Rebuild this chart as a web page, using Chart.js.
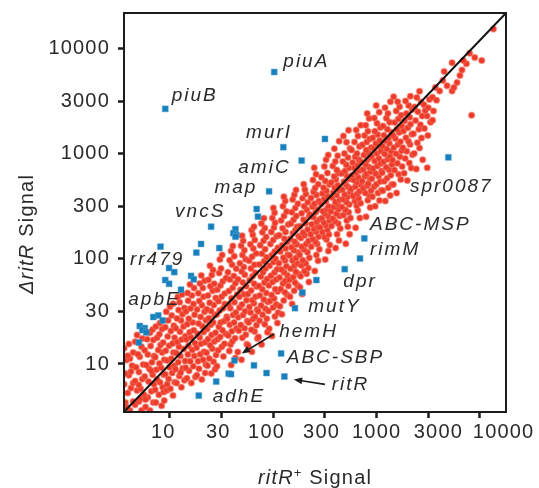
<!DOCTYPE html>
<html>
<head>
<meta charset="utf-8">
<script src="https://cdn.jsdelivr.net/npm/chart.js@4.4.1/dist/chart.umd.min.js"></script>
<style>
  html, body { margin: 0; padding: 0; background: #fff; }
  canvas { display: block; }
</style>
</head>
<body>
<canvas id="grafica" width="539" height="488"></canvas>
<script>
// axis range (signal, log scale)
const xMin = 3.59, xMax = 17860;
const yMin = 3.49, yMax = 22000;

const tickValues = [10, 31.62, 100, 316.2, 1000, 3162, 10000];
const tickLabels = ['10', '30', '100', '300', '1000', '3000', '10000'];
// spaces added to the x labels so they sit like in the figure (negative = after the text)
const xTickNudge = [-2, -1, -2, -1, 0, 3, 7];

// all genes: [ritR+ signal, ΔritR signal]
const genes = [
  [4.1,3.6],[3.7,4.3],[4.4,4.4],[3.9,5.3],[4.2,5.9],[3.6,6.4],[4.4,6.6],[4.0,7.8],[3.7,8.1],[4.3,9.6],[3.8,10.9],[4.1,11.3],[4.4,12.9],[3.6,14.1],[4.0,15.5],[3.8,3.9],[4.2,8.5],[3.9,12.0],
  [5.3,3.6],[4.6,4.1],[5.0,4.4],[5.5,5.0],[4.8,5.6],[5.2,5.8],[4.6,6.9],[5.4,7.2],[5.0,8.4],[4.7,9.3],[5.5,9.9],[5.1,11.7],[4.9,12.4],[5.3,14.6],[4.6,16.3],[5.4,17.5],[4.8,18.9],[5.2,4.7],[5.0,6.3],
  [6.4,3.6],[5.8,3.9],[6.9,4.3],[6.1,4.8],[5.6,5.1],[6.6,5.5],[7.0,6.4],[6.2,6.8],[5.7,7.6],[6.8,7.9],[6.3,9.0],[5.9,9.8],[6.7,10.4],[7.0,11.9],[6.1,12.3],[5.7,13.5],[6.5,14.8],[6.9,16.9],[6.0,17.2],[6.4,19.8],[6.8,21.3],[5.8,4.6],[6.6,8.6],
  [8.3,4.0],[7.3,4.3],[8.8,4.5],[7.8,5.1],[7.2,5.7],[8.5,6.0],[8.0,6.7],[7.5,7.1],[8.7,7.9],[7.4,8.8],[8.2,9.2],[7.9,10.1],[8.8,11.0],[7.2,11.6],[8.4,12.9],[7.7,13.6],[8.1,15.2],[8.6,16.0],[7.5,17.8],[7.9,19.2],[8.4,21.5],[7.3,22.8],[8.0,24.6],[8.7,5.4],
  [10.7,5.0],[9.3,5.6],[10.1,5.8],[11.1,6.7],[9.7,7.2],[9.0,8.0],[10.5,8.2],[9.9,9.3],[11.0,9.6],[9.4,10.8],[10.3,11.2],[10.8,12.9],[9.1,13.4],[9.8,14.9],[10.6,15.7],[11.1,17.8],[9.5,18.3],[10.2,20.6],[9.0,22.4],[10.9,23.1],[9.6,26.0],[10.4,28.9],[9.2,31.5],[10.0,35.0],[10.7,37.5],[9.4,6.4],
  [12.9,6.0],[11.6,6.6],[13.8,7.0],[12.3,7.7],[11.3,8.9],[13.3,9.1],[12.0,10.4],[14.0,10.7],[12.6,11.9],[11.5,12.7],[13.6,13.9],[12.2,14.6],[11.8,16.2],[13.0,17.1],[14.1,18.4],[12.5,20.3],[11.4,21.9],[13.5,22.7],[12.8,25.9],[11.7,27.1],[13.2,29.8],[12.1,32.6],[13.8,34.1],[12.4,38.8],[11.9,43.5],[13.1,46.0],[12.7,8.3],
  [16.1,6.6],[14.6,7.3],[17.6,7.5],[15.3,8.6],[14.2,9.2],[16.8,9.5],[15.7,10.6],[17.2,11.9],[14.9,12.3],[16.4,13.6],[15.1,14.9],[17.5,15.8],[14.4,17.1],[16.0,17.9],[15.5,20.1],[17.0,21.0],[14.7,23.9],[16.6,24.8],[15.2,26.9],[17.3,29.4],[14.3,31.6],[15.8,33.8],[16.9,37.2],[15.0,40.1],[16.3,44.8],[14.8,47.5],[17.1,53.0],[15.6,57.0],
  [20.3,7.1],[18.2,7.8],[21.9,8.2],[19.1,9.0],[22.2,9.9],[18.7,10.6],[20.9,11.0],[19.6,12.4],[21.4,13.1],[18.1,14.3],[20.0,15.6],[22.0,16.1],[19.4,17.9],[18.5,19.4],[21.2,20.2],[20.6,22.9],[18.9,24.3],[22.3,26.1],[19.8,28.0],[21.6,31.4],[18.3,33.0],[20.4,36.2],[19.2,39.9],[21.1,43.6],[18.8,47.1],[20.8,52.8],[19.5,58.4],[21.7,62.0],[20.1,69.5],
  [25.1,8.1],[27.3,8.9],[23.1,9.6],[26.4,10.5],[24.0,11.3],[27.9,12.2],[22.6,12.8],[25.7,14.0],[24.5,15.1],[26.9,16.4],[23.4,17.3],[25.3,18.9],[27.6,19.8],[22.9,21.5],[24.8,23.6],[26.2,24.9],[23.8,27.3],[27.1,29.1],[25.0,31.9],[22.7,33.2],[26.6,36.5],[24.2,38.4],[27.7,42.6],[23.3,45.0],[25.9,49.7],[24.6,54.9],[26.8,58.1],[23.6,63.4],[25.4,70.2],[26.1,78.5],[24.4,86.0],
  [28.5,9.5],[32.9,11.8],[29.3,13.5],[31.8,14.6],[33.7,15.6],[28.9,17.2],[30.6,18.1],[34.6,19.4],[32.2,21.0],[29.7,22.6],[31.0,24.8],[33.5,25.7],[35.4,28.1],[28.4,29.6],[30.3,32.3],[32.7,34.0],[34.0,37.3],[29.5,39.6],[31.6,43.8],[33.9,47.0],[28.7,50.8],[30.8,55.9],[32.5,61.2],[34.9,66.0],[29.9,73.5],[31.2,81.0],[30.4,99.0],[32.0,109],
  [39.1,9.8],[43.0,11.4],[37.5,13.3],[38.6,15.3],[40.2,16.5],[42.6,17.6],[36.6,18.7],[39.7,20.5],[44.0,21.8],[37.9,23.7],[41.7,24.9],[35.8,27.0],[40.8,29.3],[43.4,31.0],[38.3,33.9],[36.9,36.8],[42.1,38.7],[39.4,42.3],[44.6,45.9],[37.2,49.5],[40.5,53.1],[42.9,58.6],[38.0,63.9],[41.5,69.0],[36.4,74.8],[43.7,80.5],[39.9,88.0],[37.8,97.5],[41.9,106],[39.0,119],[40.6,133],
  [49.2,11.0],[45.3,13.0],[55.5,15.4],[50.1,17.8],[54.2,19.0],[46.4,20.7],[52.7,21.9],[48.5,23.5],[55.9,25.6],[45.8,27.9],[51.0,29.2],[53.3,31.8],[47.1,34.4],[49.8,36.9],[55.1,40.5],[46.9,43.7],[52.3,46.2],[48.1,50.9],[54.6,55.0],[50.6,59.8],[45.6,64.1],[53.0,70.6],[49.4,76.2],[51.8,83.8],[47.5,91.0],[54.0,99.4],[50.3,109],[52.5,121],[48.8,134],[51.1,149],[49.9,166],
  [62.1,13.1],[57.0,15.0],[70.2,17.5],[65.9,20.4],[61.3,21.2],[68.7,23.4],[57.9,24.9],[63.5,26.8],[66.6,28.2],[60.2,30.9],[69.6,33.0],[58.6,34.8],[64.9,37.9],[62.7,40.4],[67.3,43.8],[56.8,46.5],[61.0,50.2],[69.0,54.7],[65.2,58.0],[59.0,62.8],[63.0,68.6],[67.0,74.0],[60.7,81.0],[65.6,88.3],[58.3,96.0],[62.4,105],[68.2,113],[64.0,126],[60.0,138],[66.2,152],[63.3,170],[61.7,188],[65.0,203],
  [77.0,15.3],[72.0,18.1],[87.9,20.1],[82.6,23.9],[73.5,25.8],[86.4,27.0],[78.8,29.5],[71.4,31.7],[83.7,33.6],[76.1,36.0],[88.5,38.9],[80.9,41.2],[74.0,44.9],[85.5,47.3],[78.2,51.5],[72.6,55.2],[82.0,59.7],[87.0,64.3],[75.8,68.1],[79.6,74.7],[84.1,81.3],[73.2,88.6],[81.5,95.0],[86.0,104],[77.5,112],[83.3,124],[74.7,135],[80.5,149],[85.2,162],[78.4,180],[82.8,197],[76.7,218],[81.0,244],
  [97.0,18.5],[91.3,21.7],[109.5,24.6],[103.6,28.3],[111.4,30.7],[89.8,32.0],[99.4,34.6],[107.2,36.9],[93.0,39.8],[101.9,42.1],[96.2,45.5],[110.3,48.9],[104.5,51.6],[90.6,55.8],[98.5,60.4],[106.7,63.7],[94.9,69.2],[102.6,74.5],[108.9,79.8],[92.1,86.0],[100.4,93.4],[105.1,100.6],[96.8,109],[103.2,118],[110.7,128],[93.7,139],[99.9,152],[107.7,165],[95.6,181],[101.5,199],[104.0,221],[98.0,246],[102.9,276],[100.2,305],
  [121,29.8],[116,35.4],[126,40.3],[136,45.6],[129,48.2],[118,51.9],[140,55.3],[124,58.4],[131,62.0],[115,66.7],[137,70.1],[127,74.9],[120,79.5],[134,85.3],[113.5,91.2],[130,96.6],[125,103],[138,110],[117,118],[132,126],[122,135],[136.5,145],[128,156],[114,168],[131.5,181],[123,196],[139.5,213],[119,232],[127,256],[134.5,284],[124,318],[130.5,356],[126.5,392],
  [152,37.2],[145,43.6],[159,49.8],[171,56.2],[162,59.7],[143,63.5],[156,67.0],[177,71.8],[165,75.5],[147,80.9],[160,86.4],[172,90.7],[153,96.8],[166,102],[144,108],[174,115],[158,121],[150,129],[169,137],[161,146],[146,156],[176,165],[155,176],[164,189],[170,203],[148,218],[157,236],[167,256],[151,279],[163,305],[173,335],[154,368],[160,410],[166,455],
  [190,46.3],[181,53.9],[221,60.4],[184,68.5],[210,72.2],[200,76.8],[218,81.9],[187,86.6],[206,91.0],[193,97.3],[223,103],[180,109],[214,116],[198,123],[189,131],[208,139],[219,148],[185,158],[201,168],[194,179],[215,191],[182,205],[205,219],[196,236],[222,253],[188,272],[211,293],[199,318],[216,346],[192,378],[207,415],[202,458],[197,515],
  [252,77],[271,96],[261,109],[279,124],[233,131],[266,139],[255,146],[241,155],[274,163],[230,172],[259,182],[248,193],[270,203],[236,214],[263,226],[280,238],[244,251],[226,265],[257,279],[268,296],[239,315],[250,336],[276,357],[232,381],[262,406],[245,437],[254,474],[272,515],[242,565],[259,640],[249,740],
  [318,99],[341,119],[352,136],[327,153],[313,162],[345,171],[298,181],[334,190],[283,199],[322,210],[309,221],[349,233],[295,244],[338,257],[316,270],[302,285],[330,300],[344,316],[290,333],[323,352],[311,372],[336,395],[299,420],[327,447],[306,478],[350,512],[318,552],[292,600],[334,660],[312,760],[324,880],[340,980],
  [401,127],[432,150],[414,172],[445,195],[366,206],[424,218],[395,229],[377,243],[439,256],[408,269],[361,283],[427,298],[385,313],[418,331],[398,349],[442,366],[370,386],[410,406],[381,429],[435,452],[393,477],[421,505],[363,535],[404,570],[388,610],[430,655],[412,705],[376,770],[398,850],[420,960],[390,1120],[434,1320],
  [503,140],[548,172],[526,203],[514,232],[558,246],[478,262],[536,278],[497,295],[461,312],[543,331],[509,349],[474,370],[521,390],[490,412],[555,436],[465,460],[530,486],[501,514],[482,545],[547,577],[517,612],[459,650],[494,690],[540,735],[508,790],[471,850],[528,925],[488,1010],[552,1130],[511,1290],[477,1480],[535,1680],
  [626,198],[688,246],[657,289],[641,322],[700,340],[614,357],[671,377],[592,398],[650,418],[685,442],[566,463],[622,488],[698,512],[639,538],[598,566],[665,597],[578,628],[632,661],[692,697],[609,737],[656,780],[587,828],[676,880],[620,940],[645,1010],[572,1090],[682,1180],[611,1300],[660,1480],[634,1690],[702,1880],
  [790,252],[866,310],[821,362],[851,401],[776,425],[884,448],[743,472],[808,497],[829,524],[723,552],[862,580],[769,612],[797,644],[875,678],[739,713],[842,752],[786,792],[718,834],[815,880],[856,928],[754,978],[834,1032],[792,1090],[887,1152],[729,1222],[803,1300],[859,1390],[765,1500],[823,1650],[784,1880],[846,2180],[810,2430],
  [968,318],[1065,360],[912,392],[1031,424],[1110,452],[945,488],[996,515],[1082,548],[899,582],[1046,612],[974,651],[1116,688],[925,728],[1016,768],[1093,812],[957,857],[1053,903],[893,955],[1004,1010],[1101,1066],[938,1126],[1037,1190],[982,1260],[1072,1340],[918,1430],[1022,1530],[961,1650],[1087,1790],[1008,1960],[950,2200],[1059,2500],[990,2900],
  [1213,357],[1352,402],[1148,446],[1296,478],[1398,512],[1185,551],[1262,588],[1371,626],[1132,664],[1315,706],[1236,748],[1404,793],[1167,842],[1283,890],[1344,944],[1198,1000],[1380,1060],[1249,1124],[1139,1190],[1325,1262],[1224,1338],[1305,1420],[1176,1510],[1392,1610],[1270,1720],[1154,1850],[1337,2000],[1241,2190],[1288,2430],[1206,2750],[1360,3150],
  [1560,425],[1452,512],[1712,570],[1630,640],[1489,705],[1765,760],[1587,815],[1426,878],[1675,940],[1538,1005],[1742,1075],[1470,1150],[1610,1228],[1698,1310],[1516,1400],[1440,1500],[1650,1605],[1575,1720],[1750,1850],[1498,1990],[1622,2150],[1725,2340],[1546,2560],[1668,2820],[1597,3150],[1460,3500],
  [1980,558],[1845,655],[2160,735],[2070,820],[1890,905],[2220,985],[1955,1060],[1795,1145],[2105,1230],[2030,1325],[1920,1430],[2190,1540],[1822,1655],[2005,1780],[2130,1920],[1870,2070],[2085,2240],[1940,2430],[2210,2650],[2040,2900],[1905,3200],[2120,3550],
  [2420,720],[2790,880],[2310,1010],[2600,1140],[2480,1280],[2720,1420],[2270,1560],[2560,1720],[2650,1900],[2380,2080],[2760,2300],[2510,2530],[2330,2800],[2690,3100],[2450,3450],[2600,3950],
  [3090,740],[2900,1750],[3320,2000],[3080,2300],[3480,2100],[2870,2950],[3240,3300],[3130,1500],[2950,2600],
  [3160,2750],[3550,2570],[3470,3470],[3800,3240],[4070,3980],[5370,3980],[4370,5000],[4800,4470],[6000,4800],[6400,5600],[6700,6300],[7400,7240],[5370,7400],[6900,7760],[10400,7760],[8900,8300],[7940,9120],[13500,15500],[8300,2340],[3700,4300],[5600,4300],[4500,6100]
];

// ritR-regulated genes (blue squares)
const regulated = [
  [102,6030],[9.0,2690],[125,1160],[188,865],[91,441],[69,299],[71,253],[25,203],[43,192],[41,176],[44,169],[43,163],
  [8.1,131],[20,139],[18,115],[30,127],[9.8,82],[11,75],[16,69],[17,64],[9.0,63],[9.8,58],[12.8,51],
  [6.9,28],[7.7,29],[8.5,26],[5.1,23],[5.7,22],[5.4,21],[5.9,20],[5.0,16],
  [191,48],[162,34],[261,63],[42,10.8],[65,9.7],[37,8.1],[39,8.0],[86,8.2],[119,12.6],[128,7.6],[28,6.8],[19,5.0],
  [760,157],[690,101],[491,80],[316,1390],[4940,929]
];

// gene names, anchored at the left end of their baseline
const geneNames = ['piuA', 'piuB', 'murI', 'amiC', 'map', 'vncS', 'rr479', 'apbE', 'hemH', 'ABC-SBP', 'adhE', 'ritR', 'mutY', 'dpr', 'rimM', 'ABC-MSP', 'spr0087'];
const geneLabelX = [125, 10.4, 54.5, 45.8, 26.9, 11.2, 4.1, 3.95, 114, 135, 25.9, 367, 218, 476, 863, 863, 2100];
const geneLabelY = [6770, 3220, 1410, 655, 428, 253, 87.7, 36.5, 18.2, 10.2, 4.37, 5.65, 31.5, 54.5, 109, 189, 437];

// arrows for hemH and ritR
const arrowFrom = [[101.6, 19.3], [316, 6.4]];
const arrowTo = [[49.4, 12.6], [158, 7.1]];

const inkColor = '#2a2a2a';
const fontFamily = '"Liberation Sans", Arial, Helvetica, sans-serif';

function drawArrow(ctx, x1, y1, x2, y2) {
  const ang = Math.atan2(y2 - y1, x2 - x1);
  const head = 9, spread = 0.38;
  ctx.beginPath();
  ctx.moveTo(x1, y1);
  ctx.lineTo(x2 - Math.cos(ang) * head * 0.7, y2 - Math.sin(ang) * head * 0.7);
  ctx.stroke();
  ctx.beginPath();
  ctx.moveTo(x2, y2);
  ctx.lineTo(x2 - head * Math.cos(ang - spread), y2 - head * Math.sin(ang - spread));
  ctx.lineTo(x2 - head * Math.cos(ang + spread), y2 - head * Math.sin(ang + spread));
  ctx.closePath();
  ctx.fill();
}

// text made of pieces with their own font and vertical shift
function drawPieces(ctx, pieces, startX, baseY) {
  let cx = startX;
  pieces.forEach(p => {
    ctx.font = p.font;
    ctx.fillText(p.text, cx, baseY - (p.rise || 0));
    cx += ctx.measureText(p.text).width;
  });
}

function piecesWidth(ctx, pieces) {
  let w = 0;
  pieces.forEach(p => { ctx.font = p.font; w += ctx.measureText(p.text).width; });
  return w;
}

const decorations = {
  id: 'decorations',
  beforeDraw(chart) {
    chart.ctx.letterSpacing = '1.2px';
  },
  // the dots in the figure are a little soft
  beforeDatasetDraw(chart, args) {
    if (args.index === 2) {
      chart.ctx.save();
      chart.ctx.filter = 'blur(0.6px)';
    }
  },
  afterDatasetDraw(chart, args) {
    if (args.index === 2) chart.ctx.restore();
  },
  afterDraw(chart) {
    const { ctx, chartArea: a } = chart;
    const sx = chart.scales.x, sy = chart.scales.y;
    ctx.save();

    // frame
    ctx.lineWidth = 2;
    ctx.strokeStyle = '#1c1c1c';
    ctx.strokeRect(a.left, a.top, a.right - a.left, a.bottom - a.top);

    // gene names
    ctx.fillStyle = inkColor;
    ctx.textAlign = 'left';
    ctx.textBaseline = 'alphabetic';
    ctx.letterSpacing = '2px';
    ctx.font = 'italic 19px ' + fontFamily;
    geneNames.forEach((name, i) => {
      ctx.fillText(name, sx.getPixelForValue(geneLabelX[i]), sy.getPixelForValue(geneLabelY[i]));
    });

    // arrows
    ctx.strokeStyle = '#1c1c1c';
    ctx.fillStyle = '#1c1c1c';
    ctx.lineWidth = 1.6;
    arrowFrom.forEach((f, i) => {
      drawArrow(ctx, sx.getPixelForValue(f[0]), sy.getPixelForValue(f[1]),
        sx.getPixelForValue(arrowTo[i][0]), sy.getPixelForValue(arrowTo[i][1]));
    });

    // axis titles
    ctx.fillStyle = inkColor;
    ctx.letterSpacing = '1.2px';
    const xTitle = [
      { text: 'ritR', font: 'italic 20px ' + fontFamily },
      { text: '+', font: '13px ' + fontFamily, rise: 7 },
      { text: ' Signal', font: '20px ' + fontFamily }
    ];
    drawPieces(ctx, xTitle, 315 - piecesWidth(ctx, xTitle) / 2, 484);

    const yTitle = [
      { text: '\u0394ritR', font: 'italic 20px ' + fontFamily },
      { text: ' Signal', font: '20px ' + fontFamily }
    ];
    ctx.translate(27, 234);
    ctx.rotate(-Math.PI / 2);
    ctx.textBaseline = 'middle';
    drawPieces(ctx, yTitle, -piecesWidth(ctx, yTitle) / 2, 0);

    ctx.restore();
    ctx.letterSpacing = '0px';
  }
};

function axisOptions(min, max, isX) {
  return {
    type: 'logarithmic',
    min: min,
    max: max,
    afterBuildTicks: scale => {
      scale.ticks = tickValues.map(v => ({ value: v }));
    },
    afterFit: scale => {
      if (isX) scale.height = 76; else scale.width = 124;
      scale.paddingTop = 0;
      scale.paddingBottom = 0;
      scale.paddingLeft = 0;
      scale.paddingRight = 0;
    },
    ticks: {
      autoSkip: false,
      maxRotation: 0,
      minRotation: 0,
      padding: isX ? 2 : 8,
      color: inkColor,
      font: { family: fontFamily, size: 20 },
      callback: (value, index) => {
        const label = tickLabels[index];
        if (!isX) return label;
        const n = xTickNudge[index];
        return n >= 0 ? ' '.repeat(n) + label : label + ' '.repeat(-n);
      }
    },
    grid: {
      drawOnChartArea: false,
      drawTicks: true,
      tickLength: 6,
      tickWidth: 2.5,
      tickColor: '#1c1c1c'
    },
    border: { display: false }
  };
}

const ctx = document.getElementById('grafica').getContext('2d');

new Chart(ctx, {
  type: 'scatter',
  data: {
    datasets: [
      {
        type: 'line',
        data: [{ x: xMin, y: yMin }, { x: xMax, y: yMax }],
        borderColor: '#111',
        borderWidth: 2,
        pointRadius: 0,
        tension: 0,
        order: 0
      },
      {
        data: regulated.map(p => ({ x: p[0], y: p[1] })),
        pointStyle: 'rect',
        pointRadius: 4.2,
        backgroundColor: 'rgb(22,128,188)',
        borderColor: 'rgba(90,160,210,0.5)',
        borderWidth: 1,
        order: 1
      },
      {
        data: genes.map(p => ({ x: p[0], y: p[1] })),
        pointRadius: 3,
        backgroundColor: 'rgb(238,58,42)',
        borderColor: 'rgba(242,110,90,0.45)',
        borderWidth: 1.5,
        order: 2
      }
    ]
  },
  options: {
    responsive: false,
    animation: false,
    devicePixelRatio: 1,
    layout: { padding: { top: 13, right: 33, left: 0, bottom: 0 } },
    plugins: {
      legend: { display: false },
      tooltip: { enabled: false }
    },
    scales: {
      x: axisOptions(xMin, xMax, true),
      y: axisOptions(yMin, yMax, false)
    }
  },
  plugins: [decorations]
});
</script>
</body>
</html>
